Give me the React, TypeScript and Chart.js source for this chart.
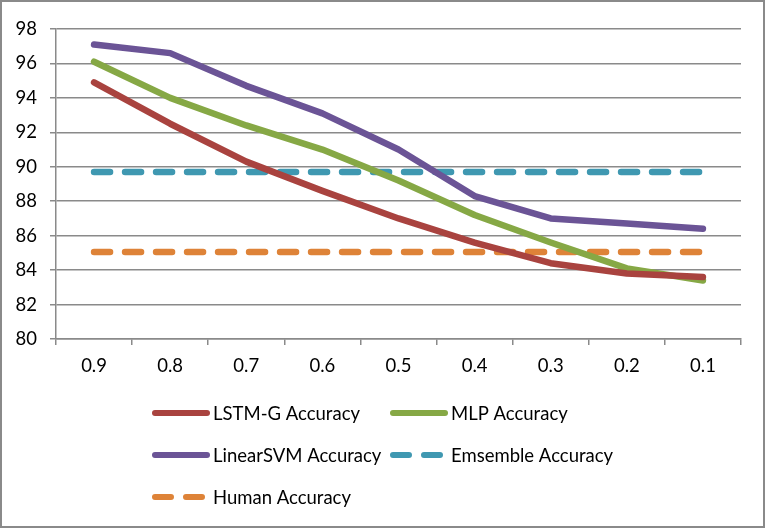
import React, { useEffect, useRef } from "react";
import { Chart, registerables } from "chart.js";

Chart.register(...registerables);

const categories = ["0.9", "0.8", "0.7", "0.6", "0.5", "0.4", "0.3", "0.2", "0.1"];
const lstmG = [94.9, 92.5, 90.3, 88.6, 87.0, 85.6, 84.4, 83.8, 83.6];
const mlp = [96.1, 94.0, 92.4, 91.0, 89.2, 87.2, 85.6, 84.1, 83.4];
const linearSvm = [97.1, 96.6, 94.7, 93.1, 91.0, 88.3, 87.0, 86.7, 86.4];
const ensemble = [89.7, 89.7, 89.7, 89.7, 89.7, 89.7, 89.7, 89.7, 89.7];
const human = [85.05, 85.05, 85.05, 85.05, 85.05, 85.05, 85.05, 85.05, 85.05];
const seriesNames = ["LSTM-G Accuracy", "MLP Accuracy", "LinearSVM Accuracy", "Emsemble Accuracy", "Human Accuracy"];

const FONT = "Lato, 'Open Sans', sans-serif";

const legendPlugin = {
  id: "customLegend",
  afterDraw(chart: any) {
    const ctx = chart.ctx;
    const colX = [152, 390];
    const rowY = [413, 455, 497];
    ctx.save();
    chart.data.datasets.forEach((ds: any, i: number) => {
      const x = colX[i % 2];
      const y = rowY[Math.floor(i / 2)];
      ctx.strokeStyle = ds.borderColor;
      ctx.lineWidth = 6;
      ctx.lineCap = "round";
      ctx.setLineDash(ds.borderDash && ds.borderDash.length ? [16, 15] : []);
      ctx.beginPath();
      ctx.moveTo(x + 3, y);
      ctx.lineTo(x + 55, y);
      ctx.stroke();
      ctx.setLineDash([]);
      ctx.fillStyle = "#000";
      ctx.font = "18.5px " + FONT;
      ctx.textBaseline = "middle";
      ctx.textAlign = "left";
      ctx.fillText(ds.label, x + 61, y + 1);
    });
    // outer border
    ctx.strokeStyle = "#8a8a8a";
    ctx.lineWidth = 2;
    ctx.strokeRect(1, 1, 763, 526);
    ctx.restore();
  },
};

export default function App() {
  const ref = useRef<HTMLCanvasElement | null>(null);
  useEffect(() => {
    document.body.style.margin = "0";
    const mk = (label: string, data: number[], color: string, dashed: boolean) => ({
      label,
      data,
      borderColor: color,
      backgroundColor: color,
      borderWidth: 6.5,
      pointRadius: 0,
      tension: 0,
      borderCapStyle: "round",
      borderJoinStyle: "round",
      borderDash: dashed ? [16, 15] : [],
      fill: false,
    });
    const chart = new Chart(ref.current!, {
      type: "line",
      data: {
        labels: categories,
        datasets: [
          mk(seriesNames[0], lstmG, "#A9433F", false),
          mk(seriesNames[1], mlp, "#86A845", false),
          mk(seriesNames[2], linearSvm, "#6B5496", false),
          mk(seriesNames[3], ensemble, "#3F98B1", true),
          mk(seriesNames[4], human, "#DE8338", true),
        ] as any,
      },
      options: {
        responsive: false,
        animation: false,
        layout: { padding: { top: 29, right: 28, left: 0, bottom: 0 } },
        plugins: { legend: { display: false }, tooltip: { enabled: false } },
        scales: {
          x: {
            offset: true,
            grid: { display: true, offset: true, drawOnChartArea: false, drawTicks: true, tickLength: 6, color: "#8a8a8a", lineWidth: 1.5 },
            border: { display: true, color: "#8a8a8a", width: 1.5 },
            ticks: { color: "#000", font: { family: FONT, size: 18.5 }, padding: 10, maxRotation: 0 },
            afterFit(scale: any) {
              scale.height = 191;
            },
          },
          y: {
            min: 80,
            max: 98,
            grid: { color: "#8a8a8a", lineWidth: 1.5, tickLength: 6 },
            border: { display: true, color: "#8a8a8a", width: 1.5 },
            ticks: { stepSize: 2, color: "#000", font: { family: FONT, size: 18.5 }, padding: 13 },
            afterFit(scale: any) {
              scale.width = 56;
            },
          },
        },
      },
      plugins: [legendPlugin],
    });
    return () => chart.destroy();
  }, []);
  return (
    <div style={{ width: 769, height: 530, background: "#fff" }}>
      <canvas ref={ref} width={769} height={530} style={{ display: "block" }} />
    </div>
  );
}
